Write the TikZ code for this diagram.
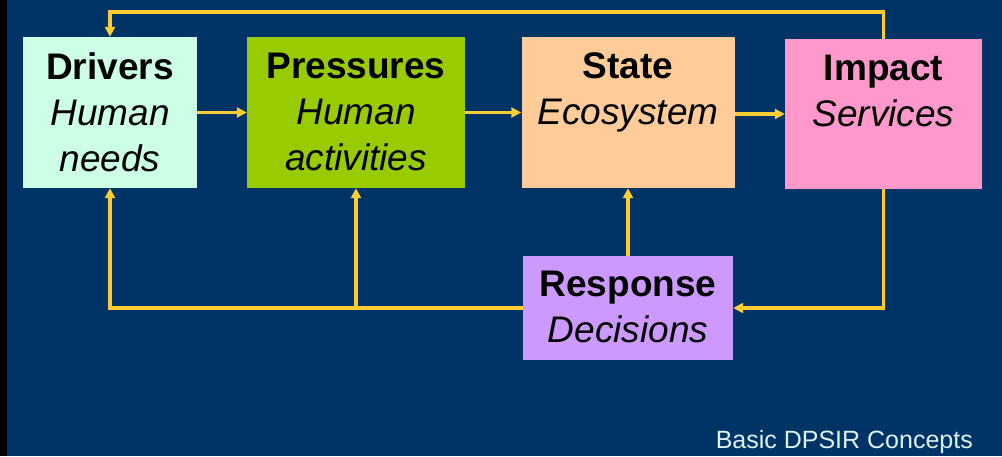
\documentclass[tikz,border=0pt]{standalone}
\usepackage{fontspec}
\setmainfont{Liberation Sans}
\usetikzlibrary{arrows.meta}
\definecolor{navy}{HTML}{003366}
\definecolor{flow}{HTML}{FFCC33}
\definecolor{cdrivers}{HTML}{CCFFE5}
\definecolor{cpressures}{HTML}{99CC00}
\definecolor{cstate}{HTML}{FFCC99}
\definecolor{cimpact}{HTML}{FF99CC}
\definecolor{cresponse}{HTML}{CC99FF}
\definecolor{caption}{HTML}{DDF2F2}
\begin{document}
\begin{tikzpicture}[x=1pt,y=-1pt,
  box/.style={draw=none,inner sep=0pt,minimum width=#1},
  boxtext/.style={anchor=north,inner sep=0pt,align=center,text=black,
    font=\fontsize{37}{46}\selectfont},
  link/.style={draw=flow,line width=3.4pt,line join=miter},
  arr/.style={link,-{Triangle[length=10pt,width=10pt]}}]
  % canvas
  \fill[navy] (0,0) rectangle (1002,456);
  \fill[black] (0,0) rectangle (7,456);
  \useasboundingbox (0,0) rectangle (1002,456);

  % the five DPSIR boxes
  \node[box=174pt,minimum height=151pt,fill=cdrivers]   (D) at (110,112.5) {};
  \node[box=218pt,minimum height=151pt,fill=cpressures] (P) at (356,112.5) {};
  \node[box=213pt,minimum height=151pt,fill=cstate]     (S) at (628,112.5) {};
  \node[box=197pt,minimum height=150pt,fill=cimpact]    (I) at (883.5,114) {};
  \node[box=210pt,minimum height=104pt,fill=cresponse]  (R) at (628,308) {};

  % box texts
  \node[boxtext] (Dt) at ([yshift=-16pt]D.north) {\textbf{Drivers}\\\textit{Human}\\\textit{needs}};
  \node[boxtext] (Pt) at ([yshift=-16pt]P.north) {\textbf{Pressures}\\\textit{Human}\\\textit{activities}};
  \node[boxtext] (St) at ([yshift=-16pt]S.north) {\textbf{State}\\\textit{Ecosystem}};
  \node[boxtext] (It) at ([yshift=-16pt]I.north) {\textbf{Impact}\\\textit{Services}};
  \node[boxtext] (Rt) at ([yshift=-15pt]R.north) {\textbf{Response}\\\textit{Decisions}};

  % junction points of the feedback loops
  \coordinate (top) at (0,12);
  \coordinate (low) at (0,308);

  % main chain
  \draw[arr] (D.east) -- (P.west);
  \draw[arr] (P.east) -- (S.west);
  \draw[arr] (S.east |- I.west) -- (I.west);

  % impact feeds back to drivers along the top
  \draw[arr] (I.north) -- (I.north |- top) -- (D.north |- top) -- (D.north);

  % impact to response
  \draw[arr] (I.south) -- (I.south |- low) -- (R.east);

  % response to state, pressures and drivers
  \draw[arr] (R.north) -- (S.south);
  \draw[arr] (R.west) -- (D.south |- low) -- (D.south);
  \draw[arr] (P.south |- low) -- (P.south);

  % caption
  \node[anchor=base east,inner sep=0pt,text=caption,
    font=\fontsize{25}{29}\selectfont] (cap) at (973,448) {Basic DPSIR Concepts};
\end{tikzpicture}
\end{document}
